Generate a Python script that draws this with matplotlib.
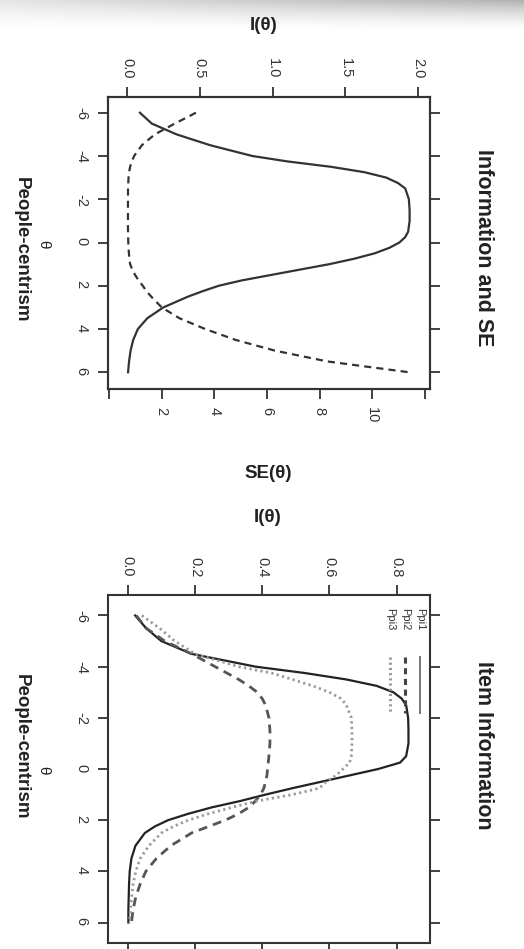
import matplotlib
matplotlib.use('Agg')
import matplotlib.pyplot as plt
import numpy as np

plt.rcParams['font.family'] = ['Liberation Sans', 'DejaVu Sans']

# theta grid
theta = [-6, -5.5, -5, -4.5, -4, -3.75, -3.5, -3.25, -3, -2.75, -2.5, -2, -1.5, -1,
         -0.5, -0.25, 0, 0.25, 0.5, 0.75, 1, 1.25, 1.5, 1.75, 2, 2.25, 2.5, 3, 3.5,
         4, 4.5, 5, 5.5, 6]

# test information and standard error
test_info = [0.089, 0.17, 0.34, 0.57, 0.86, 1.10, 1.40, 1.63, 1.78, 1.86, 1.91, 1.935,
             1.94, 1.94, 1.93, 1.91, 1.87, 1.80, 1.70, 1.56, 1.39, 1.19, 0.99, 0.79,
             0.63, 0.52, 0.42, 0.25, 0.14, 0.075, 0.043, 0.025, 0.0145, 0.0077]
test_se = [3.3, 2.5, 1.74, 1.25, 0.95, 0.87, 0.80, 0.76, 0.74, 0.73, 0.72, 0.719,
           0.718, 0.718, 0.72, 0.724, 0.731, 0.74, 0.755, 0.77, 0.80, 0.88, 0.99,
           1.12, 1.28, 1.42, 1.60, 2.0, 2.67, 3.65, 4.8, 6.3, 8.3, 11.4]

# item information
ppi1 = [0.022, 0.055, 0.10, 0.19, 0.38, 0.527, 0.65, 0.74, 0.79, 0.815, 0.828, 0.834,
        0.835, 0.835, 0.828, 0.81, 0.745, 0.66, 0.575, 0.49, 0.41, 0.335, 0.25, 0.18,
        0.12, 0.08, 0.051, 0.023, 0.011, 0.006, 0.004, 0.003, 0.002, 0.002]
ppi2 = [0.025, 0.055, 0.11, 0.19, 0.26, 0.295, 0.33, 0.36, 0.385, 0.40, 0.41, 0.42,
        0.423, 0.423, 0.42, 0.418, 0.416, 0.414, 0.41, 0.405, 0.395, 0.38, 0.36, 0.33,
        0.29, 0.24, 0.19, 0.128, 0.085, 0.054, 0.037, 0.024, 0.016, 0.011]
ppi3 = [0.042, 0.095, 0.14, 0.2, 0.33, 0.428, 0.49, 0.55, 0.60, 0.635, 0.65, 0.665,
        0.667, 0.667, 0.665, 0.66, 0.64, 0.62, 0.59, 0.57, 0.49, 0.385, 0.31, 0.24,
        0.18, 0.135, 0.10, 0.063, 0.037, 0.024, 0.016, 0.012, 0.008, 0.005]

theta_ticks = [-6, -4, -2, 0, 2, 4, 6]
info_ticks = [0.0, 0.5, 1.0, 1.5, 2.0]
se_ticks = [0, 2, 4, 6, 8, 10, 12]
item_ticks = [0.0, 0.2, 0.4, 0.6, 0.8]

W, H = 524, 949
fig = plt.figure(figsize=(W / 100, H / 100), dpi=100)
fig.patch.set_facecolor('white')

def box(x0, y0, x1, y1):
    return [x0 / W, 1 - y1 / H, (x1 - x0) / W, (y1 - y0) / H]

def ftext(x, y, s, **kw):
    fig.text(x / W, 1 - y / H, s, ha='center', va='center', **kw)

# scanned paper shade at the top
bg = fig.add_axes(box(0, 0, W, 32), zorder=-5)
yy, xx = np.mgrid[0:1:32j, 0:1:200j]
shade = 1 - 0.30 * (1 - yy) ** 1.5 * (0.35 + 0.65 * xx)
bg.imshow(shade, cmap='gray', vmin=0, vmax=1, aspect='auto', interpolation='bilinear')
bg.axis('off')

dark = '#333333'

def style(ax):
    for sp in ax.spines.values():
        sp.set_color(dark)
        sp.set_linewidth(1.5)
    ax.tick_params(colors=dark, width=1.3, length=7, labelsize=10.5)

# ---------- panel 1 : information and SE ----------
ax = fig.add_axes(box(108, 96.5, 430, 388.5))
ax2 = ax.twiny()   # twiny pushes ax ticks to the bottom, so fix positions afterwards

ax.plot(test_info, theta, color=dark, lw=1.6)
ax.set_xlim(-0.130, 2.080)
ax.set_ylim(6.75, -6.75)
ax.set_xticks(info_ticks)
ax.set_xticklabels(['0.0', '0.5', '1.0', '1.5', '2.0'])
ax.set_yticks(theta_ticks)
ax.set_yticklabels([str(t) for t in theta_ticks])
style(ax)
ax.xaxis.set_ticks_position('top')
ax.tick_params(axis='x', top=True, bottom=False, labeltop=True, labelbottom=False,
               labelrotation=270, pad=6)
ax.tick_params(axis='y', left=True, right=True, labelrotation=270, pad=7)

ax2.plot(test_se, theta, color=dark, lw=1.6, dashes=(3.2, 2.3))
ax2.set_xlim(-0.04, 12.19)
ax2.set_ylim(6.75, -6.75)
ax2.set_xticks(se_ticks)
ax2.set_xticklabels(['', '2', '4', '6', '8', '10', ''])
style(ax2)
ax2.xaxis.set_ticks_position('bottom')
ax2.tick_params(axis='x', top=False, bottom=True, labeltop=False, labelbottom=True,
                labelrotation=270, pad=6)

ftext(484, 248, 'Information and SE', rotation=270, fontsize=15.5, fontweight='bold', color='#222222')
ftext(264, 25, 'I(θ)', fontsize=13.5, fontweight='bold', color='#222222')
ftext(268, 473, 'SE(θ)', fontsize=13.5, fontweight='bold', color='#222222')
ftext(43, 244, 'θ', rotation=270, fontsize=11, color='#222222')
ftext(21, 250, 'People-centrism', rotation=270, fontsize=13.5, fontweight='bold', color='#222222')

# ---------- panel 2 : item information ----------
bx = fig.add_axes(box(108, 595, 430, 943))
bx.plot(ppi1, theta, color='#222222', lw=1.6)
bx.plot(ppi2, theta, color='#555555', lw=2.0, dashes=(3.2, 2.2))
bx.plot(ppi3, theta, color='#9a9a9a', lw=2.0, dashes=(0.8, 1.2))
bx.set_xlim(-0.0586, 0.899)
bx.set_ylim(6.8, -6.8)
bx.set_xticks(item_ticks)
bx.set_xticklabels(['0.0', '0.2', '0.4', '0.6', '0.8'])
bx.set_yticks(theta_ticks)
bx.set_yticklabels([str(t) for t in theta_ticks])
style(bx)
bx.tick_params(axis='x', top=True, bottom=True, labeltop=True, labelbottom=False,
               labelrotation=270, pad=6)
bx.tick_params(axis='y', left=True, right=True, labelrotation=270, pad=7)

# legend keys drawn in figure pixels
legend_names = ['Ppi1', 'Ppi2', 'Ppi3']
legend_x = [420, 405, 390]
legend_styles = [dict(color='#777777', lw=1.4),
                 dict(color='#444444', lw=2.2, dashes=(2.0, 1.5)),
                 dict(color='#9a9a9a', lw=2.2, dashes=(0.7, 1.0))]
for name, lx, st in zip(legend_names, legend_x, legend_styles):
    bx.plot([lx / W, lx / W], [1 - 657 / H, 1 - 713 / H], transform=fig.transFigure,
            clip_on=False, **st)
    ftext(lx, 619, name, rotation=270, fontsize=8, color='#333333')

ftext(484, 745, 'Item Information', rotation=270, fontsize=15.5, fontweight='bold', color='#222222')
ftext(268, 518, 'I(θ)', fontsize=13.5, fontweight='bold', color='#222222')
ftext(43, 770, 'θ', rotation=270, fontsize=11, color='#222222')
ftext(21, 747, 'People-centrism', rotation=270, fontsize=13.5, fontweight='bold', color='#222222')

fig.savefig('out.png', dpi=100)
